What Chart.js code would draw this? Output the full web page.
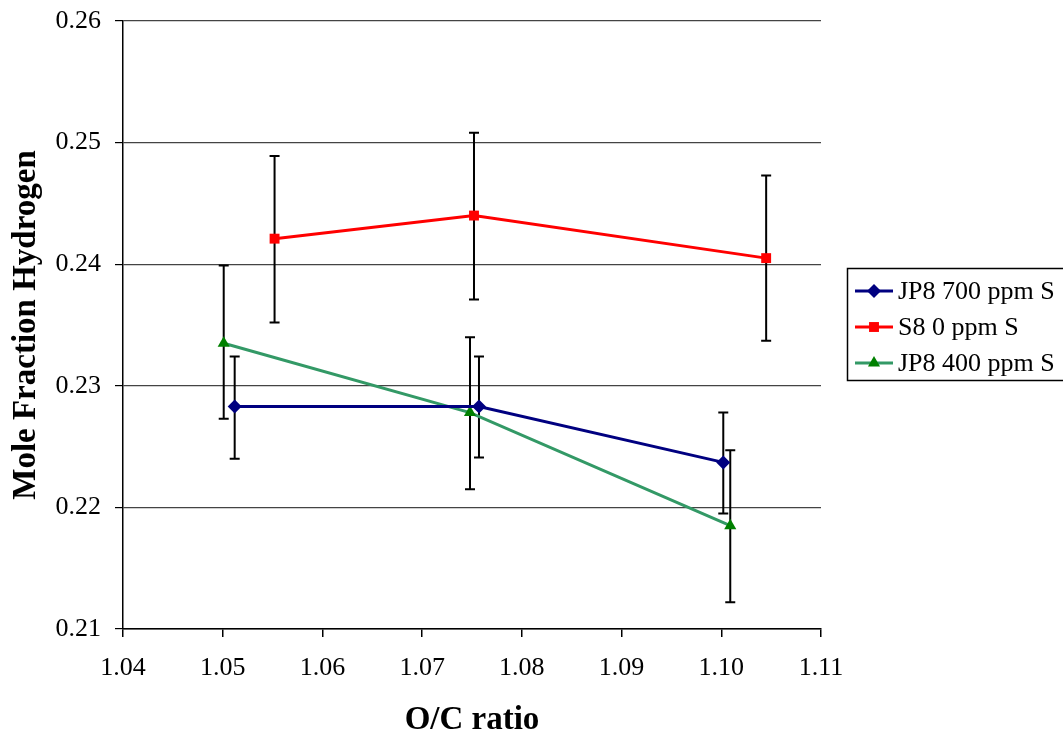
<!DOCTYPE html>
<html>
<head>
<meta charset="utf-8">
<script src="https://cdn.jsdelivr.net/npm/chart.js@4/dist/chart.umd.min.js"></script>
<style>
  html, body { margin: 0; padding: 0; background: #fff; }
  #wrap { width: 1063px; height: 737px; }
</style>
</head>
<body>
<div id="wrap"><canvas id="chart"></canvas></div>
<script>
// Data
var seriesNames = ['JP8 700 ppm S', 'S8 0 ppm S', 'JP8 400 ppm S'];

var jp8_700_x = [1.0512, 1.0757, 1.1002];
var jp8_700_y = [0.2283, 0.2283, 0.2237];
var jp8_700_lo = [0.2240, 0.2241, 0.2195];
var jp8_700_hi = [0.2324, 0.2324, 0.2278];

var s8_x = [1.0552, 1.0752, 1.1045];
var s8_y = [0.2421, 0.2440, 0.2405];
var s8_lo = [0.2352, 0.2371, 0.2337];
var s8_hi = [0.2489, 0.2508, 0.2473];

var jp8_400_x = [1.0501, 1.0748, 1.1009];
var jp8_400_y = [0.2335, 0.2278, 0.2185];
var jp8_400_lo = [0.2273, 0.2215, 0.2122];
var jp8_400_hi = [0.2399, 0.2340, 0.2247];

var xTicks = [1.04, 1.05, 1.06, 1.07, 1.08, 1.09, 1.10, 1.11];
var yTicks = [0.21, 0.22, 0.23, 0.24, 0.25, 0.26];

var FONT = "'Liberation Serif', 'Times New Roman', serif";

function toPoints(xs, ys, lo, hi) {
    return xs.map(function(x, i) {
        return { x: x, y: ys[i], lo: lo[i], hi: hi[i] };
    });
}

/**
 * Error bars drawn through the chart scales
 */
var errorBarPlugin = {
    id: 'errorBars',
    beforeDatasetsDraw: function(chart) {
        var ctx = chart.ctx;
        var xs = chart.scales.x, ys = chart.scales.y;
        ctx.save();
        ctx.strokeStyle = '#000';
        ctx.lineWidth = 2;
        chart.data.datasets.forEach(function(ds) {
            ds.data.forEach(function(p) {
                var px = xs.getPixelForValue(p.x);
                var top = ys.getPixelForValue(p.hi);
                var bot = ys.getPixelForValue(p.lo);
                ctx.beginPath();
                ctx.moveTo(px, top); ctx.lineTo(px, bot);
                ctx.moveTo(px - 5, top); ctx.lineTo(px + 5, top);
                ctx.moveTo(px - 5, bot); ctx.lineTo(px + 5, bot);
                ctx.stroke();
            });
        });
        ctx.restore();
    }
};

/**
 * Boxed legend on the right, line + marker like the original
 */
var boxLegendPlugin = {
    id: 'boxLegend',
    afterDraw: function(chart) {
        var ctx = chart.ctx;
        var left = 847.5, top = 268.5, w = 230, h = 112;
        ctx.save();
        ctx.strokeStyle = '#000';
        ctx.lineWidth = 1.5;
        ctx.strokeRect(left, top, w, h);
        ctx.font = '26px ' + FONT;
        ctx.textBaseline = 'middle';
        var rowY = [291, 327, 363];
        chart.data.datasets.forEach(function(ds, i) {
            var y = rowY[i];
            ctx.strokeStyle = ds.borderColor;
            ctx.lineWidth = 3;
            ctx.beginPath();
            ctx.moveTo(855, y); ctx.lineTo(893, y);
            ctx.stroke();
            ctx.fillStyle = ds.pointBackgroundColor;
            Chart.helpers.drawPoint(ctx, {
                pointStyle: ds.pointStyle,
                radius: ds.pointRadius,
                rotation: 0,
                borderWidth: 0
            }, 874, y);
            ctx.fillStyle = '#000';
            ctx.fillText(ds.label, 898, y + 1);
        });
        ctx.restore();
    }
};

var ctx = document.getElementById('chart');
new Chart(ctx, {
    type: 'scatter',
    data: {
        datasets: [{
            label: seriesNames[0],
            data: toPoints(jp8_700_x, jp8_700_y, jp8_700_lo, jp8_700_hi),
            showLine: true,
            borderColor: '#000080',
            borderWidth: 3,
            pointStyle: 'rectRot',
            pointRadius: 7,
            pointBorderWidth: 0,
            pointBackgroundColor: '#000080',
            pointBorderColor: '#000080'
        }, {
            label: seriesNames[1],
            data: toPoints(s8_x, s8_y, s8_lo, s8_hi),
            showLine: true,
            borderColor: '#ff0000',
            borderWidth: 3,
            pointStyle: 'rect',
            pointRadius: 7,
            pointBorderWidth: 0,
            pointBackgroundColor: '#ff0000',
            pointBorderColor: '#ff0000'
        }, {
            label: seriesNames[2],
            data: toPoints(jp8_400_x, jp8_400_y, jp8_400_lo, jp8_400_hi),
            showLine: true,
            borderColor: '#339966',
            borderWidth: 3,
            pointStyle: 'triangle',
            pointRadius: 7,
            pointBorderWidth: 0,
            pointBackgroundColor: '#008000',
            pointBorderColor: '#008000'
        }]
    },
    options: {
        responsive: true,
        maintainAspectRatio: false,
        animation: false,
        layout: { padding: { top: 21, right: 242, left: 0, bottom: 0 } },
        plugins: {
            legend: { display: false },
            tooltip: { enabled: false }
        },
        scales: {
            x: {
                type: 'linear',
                min: 1.04,
                max: 1.11,
                afterBuildTicks: function(scale) {
                    scale.ticks = xTicks.map(function(v) { return { value: v }; });
                },
                afterFit: function(scale) {
                    scale.height = 108;
                    scale.paddingLeft = 0;
                    scale.paddingRight = 0;
                },
                border: { color: '#000', width: 1.5 },
                grid: { drawOnChartArea: false, drawTicks: true, tickLength: 8, color: '#000', lineWidth: 1.5 },
                ticks: {
                    color: '#000',
                    padding: 16,
                    font: { family: FONT, size: 26 },
                    callback: function(v) { return v.toFixed(2); }
                },
                title: {
                    display: true,
                    text: 'O/C ratio',
                    color: '#000',
                    font: { family: FONT, size: 33, weight: 'bold', lineHeight: 1 },
                    padding: { top: 0, bottom: 0 }
                }
            },
            y: {
                min: 0.21,
                max: 0.26,
                afterBuildTicks: function(scale) {
                    scale.ticks = yTicks.map(function(v) { return { value: v }; });
                },
                afterFit: function(scale) {
                    scale.width = 123;
                    scale.paddingTop = 0;
                    scale.paddingBottom = 0;
                },
                border: { color: '#000', width: 1.5 },
                grid: { color: '#444', lineWidth: 1.2, tickLength: 8, tickColor: '#000' },
                ticks: {
                    color: '#000',
                    padding: 14,
                    font: { family: FONT, size: 26 },
                    callback: function(v) { return v.toFixed(2); }
                },
                title: {
                    display: true,
                    text: 'Mole Fraction Hydrogen',
                    color: '#000',
                    font: { family: FONT, size: 33, weight: 'bold', lineHeight: 1 },
                    padding: { top: 10, bottom: 0 }
                }
            }
        }
    },
    plugins: [errorBarPlugin, boxLegendPlugin]
});
</script>
</body>
</html>
